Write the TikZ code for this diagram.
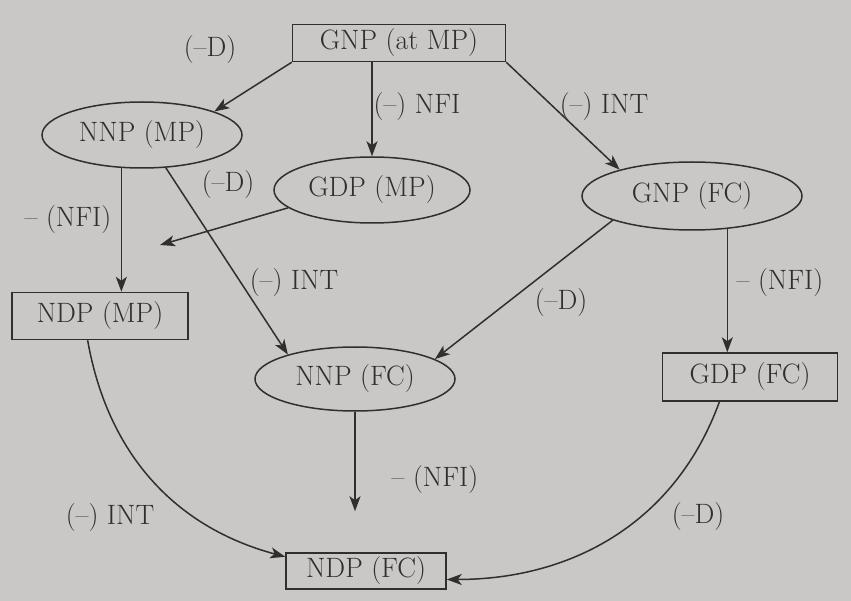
\documentclass[tikz,border=0pt]{standalone}
\usepackage{tikz}
\usetikzlibrary{arrows.meta,shapes.geometric,calc}
\definecolor{NatPaper}{HTML}{C9C8C6}
\definecolor{NatInk}{HTML}{332D2D}

\begin{document}
\begin{tikzpicture}[x=1pt,y=1pt,font=\fontsize{28}{32}\selectfont,
  every node/.style={text=NatInk},
  box/.style={draw=NatInk,line width=1.5pt,rectangle,inner sep=0pt},
  oval/.style={draw=NatInk,line width=1.5pt,ellipse,inner sep=0pt},
  arw/.style={-{Stealth[length=15pt,width=11pt,inset=4pt]},draw=NatInk,line width=1.5pt}]
\path[use as bounding box,fill=NatPaper] (0,0) rectangle (851,-601);
\node[box,minimum width=213,minimum height=37] (gnpmp) at (399,-43) {GNP (at MP)};
\node[oval,minimum width=200,minimum height=66] (nnpmp) at (142,-135) {NNP (MP)};
\node[oval,minimum width=196,minimum height=66] (gdpmp) at (372,-190) {GDP (MP)};
\node[oval,minimum width=220,minimum height=68] (gnpfc) at (692,-196) {GNP (FC)};
\node[box,minimum width=176,minimum height=47] (ndpmp) at (100,-316) {NDP (MP)};
\node[oval,minimum width=200,minimum height=64] (nnpfc) at (355,-379) {NNP (FC)};
\node[box,minimum width=175,minimum height=48] (gdpfc) at (750,-377) {GDP (FC)};
\node[box,minimum width=160,minimum height=36] (ndpfc) at (366,-571) {NDP (FC)};
\coordinate (gdpmpend) at (160,-245);
\draw[arw] (gnpmp.south west) -- (nnpmp.18);
\draw[arw] (gnpmp.south -| gdpmp.north) -- (gdpmp.north);
\draw[arw] (gnpmp.south east) -- (gnpfc.160);
\draw[arw] (nnpmp.-122) -- (nnpmp.-122 |- ndpmp.north);
\draw[arw] (nnpmp.-54) -- (nnpfc.160);
\draw[arw] (gdpmp.192) -- (gdpmpend);
\draw[arw] (gnpfc.197) -- (nnpfc.14);
\draw[arw] (gnpfc.-43) -- (gnpfc.-43 |- gdpfc.north);
\draw[arw,shorten >=41pt] (nnpfc.south) -- (nnpfc.south |- ndpfc.north);
\draw[arw] (ndpmp.-117) to[out=-80,in=165] (ndpfc.170);
\draw[arw] (gdpfc.-141) to[out=-110,in=0] (ndpfc.-6);
\node (lD1) at (210,-50) {(--D)};
\node (lNFI1) at (417,-107) {(--) NFI};
\node (lINT1) at (604,-107) {(--) INT};
\node (lNFI2) at (68,-220) {-- (NFI)};
\node (lD2) at (228,-185) {(--D)};
\node (lINT2) at (294,-283) {(--) INT};
\node (lD3) at (561,-303) {(--D)};
\node (lNFI3) at (780,-283) {-- (NFI)};
\node (lNFI4) at (435,-480) {-- (NFI)};
\node (lINT3) at (110,-518) {(--) INT};
\node (lD4) at (698,-517) {(--D)};
\end{tikzpicture}
\end{document}
